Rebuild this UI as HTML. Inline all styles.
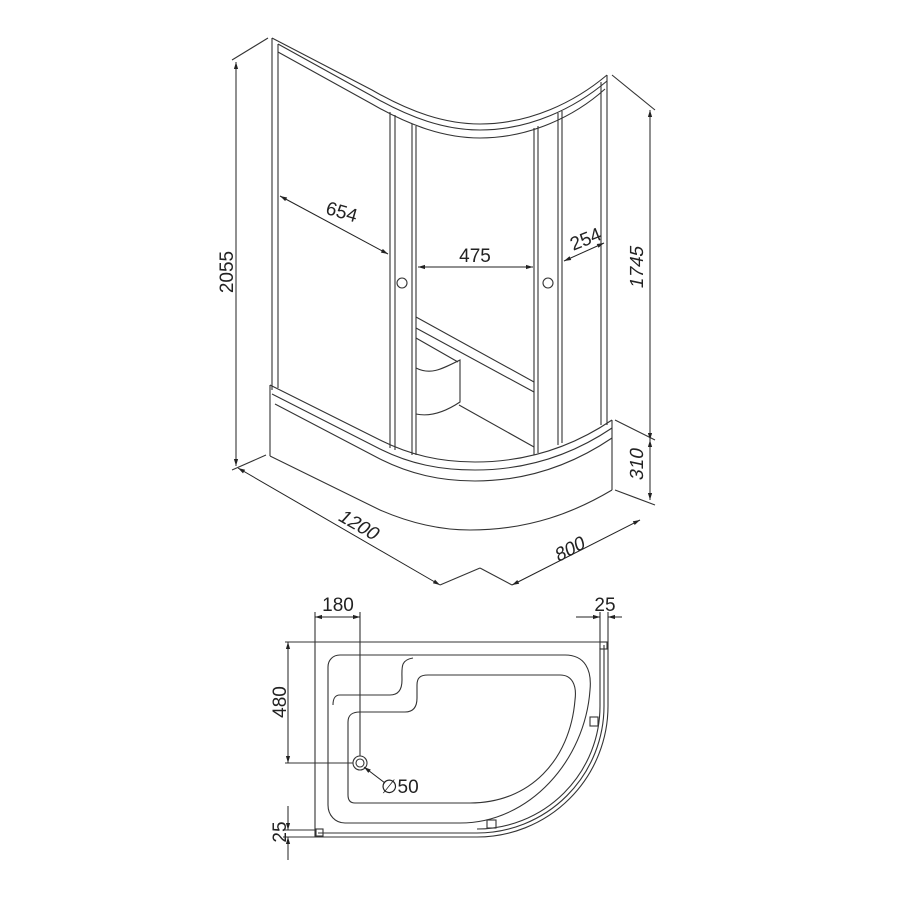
<!DOCTYPE html>
<html><head><style>html,body{margin:0;padding:0;background:#fff}svg{display:block}text{font-family:"Liberation Sans",sans-serif;fill:#222}</style></head>
<body>
<svg width="900" height="900" viewBox="0 0 900 900" xmlns="http://www.w3.org/2000/svg">
<defs><marker id="a" viewBox="0 0 10 10" refX="10" refY="5" markerWidth="9" markerHeight="7" orient="auto-start-reverse"><path d="M0,2 L10,5 L0,8 z" fill="#222"/></marker></defs>
<g fill="none" stroke="#333" stroke-width="1.1">
<line x1="272" y1="38" x2="272" y2="390"/><line x1="278" y1="44" x2="278" y2="388"/>
<path d="M272,38 L372,90 C410,112 445,124 480,124 C530,124 575,102 607,75"/>
<path d="M278,44 L372,96 C410,118 445,130 480,130 C530,130 575,108 607,81"/>
<path d="M278,52 L372,104 C410,126 445,138 480,138 C530,138 575,116 605,89"/>
<line x1="607" y1="75" x2="607" y2="425"/><line x1="601" y1="82" x2="601" y2="425"/>
<line x1="390" y1="112" x2="390" y2="448"/><line x1="395" y1="115" x2="395" y2="450"/>
<line x1="412" y1="124" x2="412" y2="455"/><line x1="416" y1="126" x2="416" y2="455"/>
<line x1="534" y1="128" x2="534" y2="455"/><line x1="538" y1="126" x2="538" y2="453"/>
<line x1="558" y1="113" x2="558" y2="445"/><line x1="562" y1="111" x2="562" y2="443"/>
<circle cx="402" cy="283" r="5"/><circle cx="548" cy="283" r="5"/>
<line x1="416" y1="317" x2="534" y2="382"/><line x1="416" y1="328" x2="534" y2="392"/>
<line x1="416" y1="338" x2="458" y2="362"/>
<path d="M416,368 C430,375 440,370 460,360 L460,402 C445,412 430,417 416,414"/>
<line x1="459" y1="405" x2="534" y2="447"/>
<line x1="270" y1="385" x2="270" y2="456"/>
<path d="M270,385 L380,440 C410,455 440,462 475,462 C530,462 575,445 612,420"/>
<path d="M272,394 L380,449 C410,464 440,470 475,470 C530,470 575,453 612,428"/>
<path d="M275,404 L380,459 C410,474 440,481 475,481 C530,481 575,463 612,438"/>
<path d="M270,456 L380,510 C410,523 440,530 470,530 C530,530 575,512 612,490"/>
<line x1="612" y1="420" x2="612" y2="490"/>
<line x1="268" y1="38" x2="232" y2="60"/><line x1="266" y1="455" x2="232" y2="470"/>
<line x1="612" y1="75" x2="655" y2="110"/><line x1="615" y1="420" x2="655" y2="440"/><line x1="615" y1="490" x2="655" y2="505"/>
<line x1="440" y1="585" x2="480" y2="568"/><line x1="480" y1="568" x2="512" y2="585"/>
</g>
<g stroke="#222" stroke-width="1" fill="none">
<line x1="236" y1="62" x2="236" y2="466" marker-start="url(#a)" marker-end="url(#a)"/>
<line x1="650" y1="110" x2="650" y2="440" marker-start="url(#a)" marker-end="url(#a)"/>
<line x1="650" y1="440" x2="650" y2="500" marker-start="url(#a)" marker-end="url(#a)"/>
<line x1="238" y1="468" x2="440" y2="585" marker-start="url(#a)" marker-end="url(#a)"/>
<line x1="512" y1="585" x2="640" y2="520" marker-start="url(#a)" marker-end="url(#a)"/>
<line x1="280" y1="196" x2="388" y2="254" marker-start="url(#a)" marker-end="url(#a)"/>
<line x1="418" y1="267" x2="533" y2="267" marker-start="url(#a)" marker-end="url(#a)"/>
<line x1="564" y1="261" x2="604" y2="243" marker-start="url(#a)" marker-end="url(#a)"/>
</g>
<g font-size="19">
<text x="0" y="0" transform="translate(233,272) rotate(-90)" text-anchor="middle">2055</text>
<text x="0" y="0" transform="translate(643,268) rotate(-90) skewX(-12)" text-anchor="middle">1745</text>
<text x="0" y="0" transform="translate(643,465) rotate(-90) skewX(-12)" text-anchor="middle">310</text>
<text x="0" y="0" transform="translate(355,530) rotate(30) skewX(-12)" text-anchor="middle">1200</text>
<text x="0" y="0" transform="translate(572,555) rotate(-28) skewX(-12)" text-anchor="middle">800</text>
<text x="0" y="0" transform="translate(340,218) rotate(16)" text-anchor="middle">654</text>
<text x="475" y="262" text-anchor="middle">475</text>
<text x="0" y="0" transform="translate(588,245) rotate(-22)" text-anchor="middle">254</text>
</g>
<g fill="none" stroke="#333" stroke-width="1.1">
<path d="M315,642 L608,642 L608,706 A131,131 0 0 1 477,837 L315,837 Z"/>
<path d="M604,645 L604,706 A127,127 0 0 1 477,833 L318,833"/>
<path d="M600,648 L600,706 A123,123 0 0 1 477,829"/>
<path d="M340,655 L565,655 C585,655 592,670 590,690 C585,760 530,823 460,823 L345,823 C335,823 328,815 328,805 L328,667 C328,660 333,655 340,655 Z"/>
<path d="M413,658 C400,660 402,668 402,680 C402,690 398,695 390,695 L340,695 C334,695 333,700 333,705"/>
<path d="M348,722 C348,715 352,712 360,712 L405,712 C414,712 417,706 417,698 L417,685 C417,678 420,675 428,675 L560,675 C572,675 577,685 575,700 C570,760 530,803 470,803 L355,803 C350,803 348,800 348,795 Z"/>
<circle cx="360" cy="763" r="7"/><circle cx="360" cy="763" r="4"/>
<rect x="600" y="642" width="7" height="7"/><rect x="316" y="829" width="7" height="7"/>
<rect x="590" y="717" width="8" height="9"/><rect x="487" y="820" width="9" height="8"/>
<line x1="315" y1="612" x2="315" y2="642"/><line x1="360" y1="612" x2="360" y2="756"/>
<line x1="285" y1="642" x2="315" y2="642"/><line x1="285" y1="763" x2="353" y2="763"/>
<line x1="600" y1="612" x2="600" y2="642"/><line x1="608" y1="612" x2="608" y2="642"/>
<line x1="283" y1="830" x2="316" y2="830"/><line x1="283" y1="837" x2="316" y2="837"/>
</g>
<g stroke="#222" stroke-width="1" fill="none">
<line x1="315" y1="617" x2="360" y2="617" marker-start="url(#a)" marker-end="url(#a)"/>
<line x1="288" y1="642" x2="288" y2="763" marker-start="url(#a)" marker-end="url(#a)"/>
<line x1="576" y1="617" x2="600" y2="617" marker-end="url(#a)"/><line x1="622" y1="617" x2="608" y2="617" marker-end="url(#a)"/>
<line x1="288" y1="806" x2="288" y2="830" marker-end="url(#a)"/><line x1="288" y1="860" x2="288" y2="837" marker-end="url(#a)"/>
<line x1="385" y1="783" x2="364" y2="767" marker-end="url(#a)"/>
</g>
<g font-size="19">
<text x="338" y="611" text-anchor="middle">180</text>
<text x="605" y="611" text-anchor="middle">25</text>
<text x="0" y="0" transform="translate(286,702) rotate(-90)" text-anchor="middle">480</text>
<text x="0" y="0" transform="translate(286,832) rotate(-90)" text-anchor="middle">25</text>
<text x="381" y="793">∅50</text>
</g>
</svg>
</body></html>
